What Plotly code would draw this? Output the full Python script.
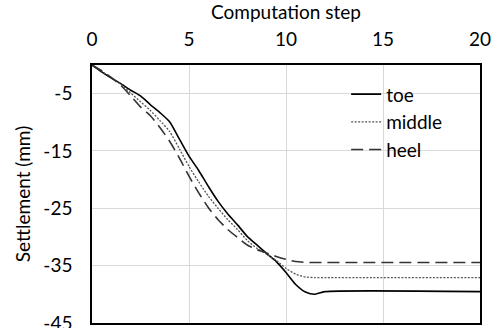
import plotly.graph_objects as go

steps = [0, 0.5, 1, 1.5, 2, 2.5, 3, 3.5, 4, 4.5, 5, 5.5, 6, 6.5, 7, 7.5, 8, 8.5, 9, 9.5, 10, 10.5, 11, 11.5, 12, 20]
toe = [0, -1.2, -2.3, -3.3, -4.4, -5.4, -6.9, -8.3, -9.9, -12.9, -15.9, -18.4, -21.2, -23.8, -26.0, -27.9, -29.9, -31.4, -32.9, -34.3, -36.2, -38.3, -39.6, -40.0, -39.55, -39.55]
middle = [0, -1.1, -2.2, -3.4, -4.9, -6.4, -7.9, -9.7, -11.6, -14.6, -17.7, -20.4, -22.9, -25.0, -27.0, -28.7, -30.6, -32.0, -33.0, -34.1, -35.5, -36.5, -37.0, -37.1, -37.1, -37.1]
heel = [0, -1.0, -2.2, -3.6, -5.4, -7.3, -8.8, -10.9, -13.3, -16.2, -19.4, -22.3, -24.9, -27.0, -28.7, -30.1, -31.4, -32.2, -32.8, -33.4, -33.9, -34.3, -34.45, -34.45, -34.45, -34.45]

x_ticks = [0, 5, 10, 15, 20]
y_ticks = [-5, -15, -25, -35, -45]
y_tick_labels = ["-5", "-15", "-25", "-35", "-45"]

FONT = "Lato, Open Sans, sans-serif"
FS = 19

fig = go.Figure()
fig.add_trace(go.Scatter(x=steps, y=toe, name="toe", mode="lines",
                         line=dict(color="black", width=1.6, shape="spline", smoothing=0.6)))
fig.add_trace(go.Scatter(x=steps, y=middle, name="middle", mode="lines",
                         line=dict(color="#555555", width=1.3, dash="2px,1.5px", shape="spline", smoothing=0.6)))
fig.add_trace(go.Scatter(x=steps, y=heel, name="heel", mode="lines",
                         line=dict(color="#333333", width=1.6, dash="12px,6px", shape="spline", smoothing=0.6)))

fig.update_layout(
    width=500, height=328,
    margin=dict(l=92, r=20, t=65, b=5, autoexpand=False),
    paper_bgcolor="white", plot_bgcolor="white",
    font=dict(family=FONT, size=FS, color="black"),
    showlegend=True,
    legend=dict(x=0.655, y=0.96, xanchor="left", yanchor="top",
                bgcolor="rgba(0,0,0,0)", font=dict(size=FS), tracegroupgap=0),
    xaxis=dict(side="top", range=[0, 20], tickvals=x_ticks, ticks="outside",
               ticklen=10, tickcolor="rgba(0,0,0,0)", ticklabeloverflow="allow",
               showgrid=True, gridcolor="#d9d9d9", gridwidth=1,
               showline=True, linecolor="black", linewidth=1.5, mirror=True,
               zeroline=False,
               title=dict(text="Computation step", font=dict(size=FS), standoff=4),
               tickfont=dict(size=FS)),
    yaxis=dict(range=[-45.02, 0], tickvals=y_ticks, ticktext=y_tick_labels, ticks="outside",
               ticklen=14, tickcolor="rgba(0,0,0,0)", ticklabeloverflow="allow",
               showgrid=True, gridcolor="#d9d9d9", gridwidth=1,
               showline=True, linecolor="black", linewidth=1.5, mirror=True,
               zeroline=False,
               title=dict(text="Settlement (mm)", font=dict(size=FS), standoff=8),
               tickfont=dict(size=FS)),
)

fig.write_html("out.html", config={"displayModeBar": False},
               post_script="document.body.style.margin='0';document.body.style.overflow='hidden';")
